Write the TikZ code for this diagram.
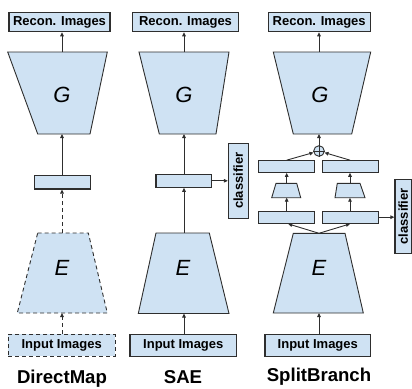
\documentclass[tikz,border=0pt]{standalone}
\usepackage{fontspec}
\setmainfont{Liberation Sans}
\usetikzlibrary{arrows.meta}
\definecolor{fillb}{HTML}{CFE2F3}
\definecolor{edge}{HTML}{2E2E2E}
\tikzset{
 box/.style={draw=edge, fill=fillb, line width=1.1pt, inner sep=0pt, font=\fontsize{13}{15}\selectfont\bfseries},
 trap/.style={draw=edge, fill=fillb, line width=0.9pt, line join=miter},
 arr/.style={draw=edge, line width=0.9pt, -{Triangle[length=4pt,width=3.6pt]}},
 dsh/.style={dash pattern=on 4pt off 3pt},
 title/.style={font=\fontsize{18.6}{20}\selectfont\bfseries, anchor=base, inner sep=0pt},
 letter/.style={font=\fontsize{22}{25}\selectfont\itshape, inner sep=0pt},
}
\begin{document}
\begin{tikzpicture}[x=1pt,y=-1pt]
\useasboundingbox (0,0) rectangle (412,388);

% ---------------- DirectMap ----------------
\node[box, minimum width=101pt, minimum height=19pt] (dR) at (59.5,22.2) {Recon. Images};
\draw[trap] (7.7,52) -- (107.3,52) -- (90,134) -- (37.7,134) -- cycle;
\coordinate (dGt) at (62,52); \coordinate (dGb) at (62,134);
\node[letter] (dG) at (62,95) {G};
\node[box, minimum width=56.4pt, minimum height=13.3pt] (dL) at (62.5,182.3) {};
\draw[trap, dsh] (37.7,233) -- (88.3,233) -- (107.3,313) -- (17.3,313) -- cycle;
\coordinate (dEt) at (62,233); \coordinate (dEb) at (62,313);
\node[letter] (dE) at (62,268) {E};
\node[box, dsh, minimum width=106.7pt, minimum height=21.7pt] (dI) at (61.7,345.2) {Input Images};
\node[title] (dT) at (62,383.8) {DirectMap};

\draw[arr] (dGt) -- (dGt |- dR.south);
\draw[arr] (dL.north -| dGb) -- (dGb);
\draw[arr, dsh] (dEt) -- (dEt |- dL.south);
\draw[arr, dsh] (dI.north -| dEb) -- (dEb);

% ---------------- SAE ----------------
\node[box, minimum width=105.6pt, minimum height=19pt] (sR) at (185.5,22.2) {Recon. Images};
\draw[trap] (139,52) -- (229,52) -- (216,134) -- (159.3,134) -- cycle;
\coordinate (sGt) at (184,52); \coordinate (sGb) at (184,134);
\node[letter] (sG) at (184,95) {G};
\node[box, minimum width=55.7pt, minimum height=13pt] (sL) at (183.8,180.8) {};
\node[box, rotate=90, minimum width=75pt, minimum height=20pt] (sC) at (238.3,180.8) {classifier};
\draw[trap] (156,233) -- (209.3,233) -- (229,313.5) -- (138.3,313.5) -- cycle;
\coordinate (sEt) at (184,233); \coordinate (sEb) at (184,313.5);
\node[letter] (sE) at (183,268) {E};
\node[box, minimum width=106.7pt, minimum height=21.7pt] (sI) at (183.3,345.2) {Input Images};
\node[title] (sT) at (183,383.8) {SAE};

\draw[arr] (sGt) -- (sGt |- sR.south);
\draw[arr] (sL.north -| sGb) -- (sGb);
\draw[arr] (sEt) -- (sEt |- sL.south);
\draw[arr] (sI.north -| sEb) -- (sEb);
\draw[arr] (sL.east) -- (sL.east -| sC.north);

% ---------------- SplitBranch ----------------
\node[box, minimum width=101.7pt, minimum height=19pt] (pR) at (319.2,22.2) {Recon. Images};
\draw[trap] (273.3,52) -- (370.7,52) -- (351.7,134) -- (293.3,134) -- cycle;
\coordinate (pGt) at (319,52); \coordinate (pGb) at (319,134);
\node[letter] (pG) at (320,95) {G};
\node[circle, draw=edge, fill=fillb, line width=0.9pt, minimum size=10.6pt, inner sep=0pt] (pS) at (319,151) {};
\draw[edge, line width=0.8pt] (pS.north) -- (pS.south) (pS.west) -- (pS.east);
\node[box, minimum width=55.7pt, minimum height=11.6pt] (pUL) at (286.2,166.5) {};
\node[box, minimum width=56pt, minimum height=11.6pt] (pUR) at (350.3,166.5) {};
\draw[trap] (276,183.3) -- (296.7,183.3) -- (300.7,197.7) -- (271.7,197.7) -- cycle;
\coordinate (pTLt) at (286.7,183.3); \coordinate (pTLb) at (286.7,197.7);
\draw[trap] (337.3,183.3) -- (360,183.3) -- (365,197.7) -- (335,197.7) -- cycle;
\coordinate (pTRt) at (350,183.3); \coordinate (pTRb) at (350,197.7);
\node[box, minimum width=55.7pt, minimum height=12.3pt] (pLL) at (286.2,217.2) {};
\node[box, minimum width=56pt, minimum height=12.3pt] (pLR) at (350.3,217.2) {};
\node[box, rotate=90, minimum width=74pt, minimum height=16.5pt] (pC) at (403.2,216.3) {classifier};
\draw[trap] (293.3,233.3) -- (345,233.3) -- (363.3,313) -- (273.3,313) -- cycle;
\coordinate (pEt) at (319,233.3); \coordinate (pEb) at (319,313);
\node[letter] (pE) at (319,268) {E};
\node[box, minimum width=105.7pt, minimum height=21.7pt] (pI) at (317.8,345.2) {Input Images};
\node[title] (pT) at (319,381.5) {SplitBranch};

\draw[arr] (pGt) -- (pGt |- pR.south);
\draw[arr] (pS.north) -- (pGb);
\draw[arr] ([xshift=0.5pt]pUL.north) -- (pS);
\draw[arr] ([xshift=-0.3pt]pUR.north) -- (pS);
\draw[arr] (pTLt) -- (pTLt |- pUL.south);
\draw[arr] (pTRt) -- (pTRt |- pUR.south);
\draw[arr] (pLL.north -| pTLb) -- (pTLb);
\draw[arr] (pLR.north -| pTRb) -- (pTRb);
\draw[arr] (pEt) -- ([xshift=2pt]pLL.south);
\draw[arr] (pEt) -- ([xshift=-0.3pt]pLR.south);
\draw[arr] (pLR.east) -- (pLR.east -| pC.north);
\draw[arr] (pI.north -| pEb) -- (pEb);
\end{tikzpicture}
\end{document}
